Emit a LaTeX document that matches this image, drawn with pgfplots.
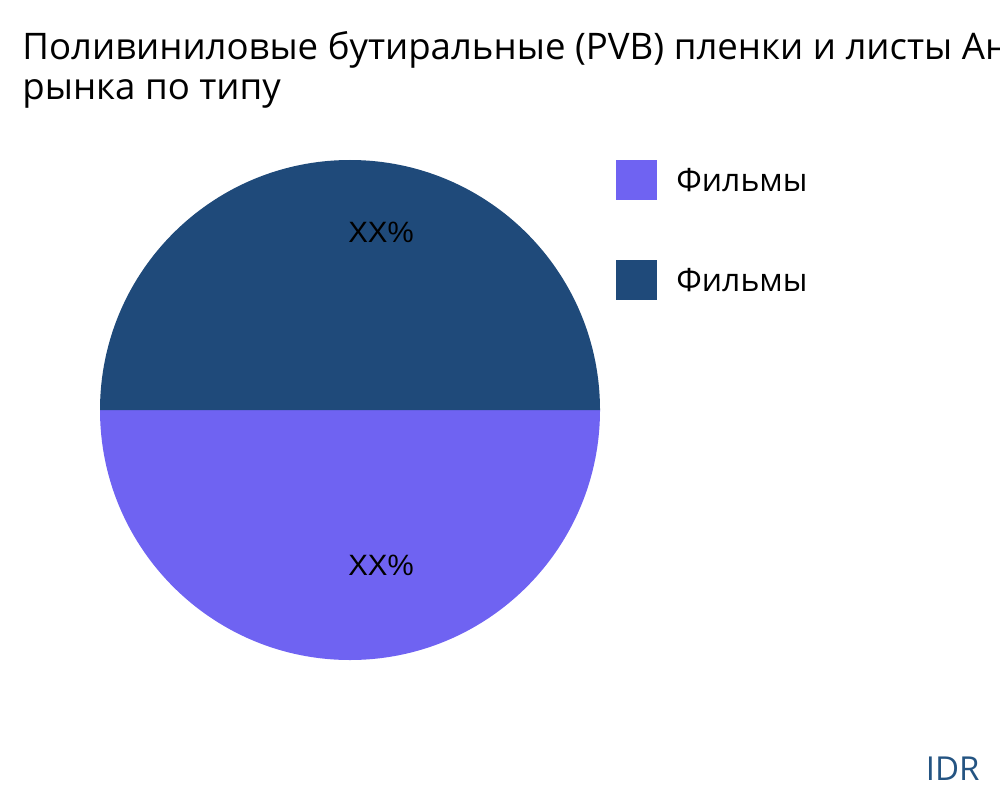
\documentclass[border=0pt]{standalone}
\usepackage{pgfplots}
\usepackage{pgfplotstable}
\usepackage{fontspec}
\pgfplotsset{compat=1.18}
\setmainfont{Open Sans}
\newfontfamily\labelfont{Liberation Sans}

\definecolor{filmA}{RGB}{111,99,242}
\definecolor{filmB}{RGB}{31,74,122}
\definecolor{idr}{RGB}{36,84,130}

% pie shares, in percent
\pgfplotstableread{
label value
Films1 50
Films2 50
}\piedata

\begin{document}
\begin{tikzpicture}
\path[use as bounding box] (0,0) rectangle (500pt,400pt);
\clip (0,0) rectangle (500pt,400pt);

\pgfplotstablegetelem{0}{value}\of\piedata
\pgfmathsetmacro{\va}{\pgfplotsretval}
\pgfplotstablegetelem{1}{value}\of\piedata
\pgfmathsetmacro{\vb}{\pgfplotsretval}
\pgfmathsetmacro{\tot}{\va+\vb}
\pgfmathsetmacro{\aS}{180}
\pgfmathsetmacro{\aM}{\aS+\va/\tot*360}
\pgfmathsetmacro{\aE}{\aM+\vb/\tot*360}

\begin{axis}[
    at={(0,0)}, anchor=south west,
    scale only axis,
    width=500pt, height=400pt,
    xmin=0, xmax=500, ymin=0, ymax=400,
    hide axis,
    clip=false,
    ]
    % slices
    \fill[filmA] (axis cs:175,195) -- (axis cs:{175+125*cos(\aS)},{195+125*sin(\aS)})
        arc[start angle=\aS, end angle=\aM, radius=125pt] -- cycle;
    \fill[filmB] (axis cs:175,195) -- (axis cs:{175+125*cos(\aM)},{195+125*sin(\aM)})
        arc[start angle=\aM, end angle=\aE, radius=125pt] -- cycle;

    \node[font=\labelfont\fontsize{14.7}{16}\selectfont] at (axis cs:190.5,284) {XX\%};
    \node[font=\labelfont\fontsize{14.7}{16}\selectfont] at (axis cs:190.5,117.5) {XX\%};

    % legend
    \fill[filmA] (axis cs:308,300) rectangle (axis cs:328.5,320);
    \fill[filmB] (axis cs:308,250) rectangle (axis cs:328.5,270);
    \node[anchor=west, font=\fontsize{16}{18}\selectfont, inner sep=0pt] at (axis cs:338,310) {Фильмы};
    \node[anchor=west, font=\fontsize{16}{18}\selectfont, inner sep=0pt] at (axis cs:338,260) {Фильмы};

    % title
    \node[anchor=base west, inner sep=0pt, font=\fontsize{18.3}{21}\selectfont]
        at (axis cs:11,370) {Поливиниловые бутиральные (PVB) пленки и листы Анализ};
    \node[anchor=base west, inner sep=0pt, font=\fontsize{18.3}{21}\selectfont]
        at (axis cs:11,350) {рынка по типу};

    \node[anchor=east, inner sep=0pt, text=idr, font=\fontsize{16.5}{18}\selectfont]
        at (axis cs:490,15.5) {IDR};
\end{axis}
\end{tikzpicture}
\end{document}
